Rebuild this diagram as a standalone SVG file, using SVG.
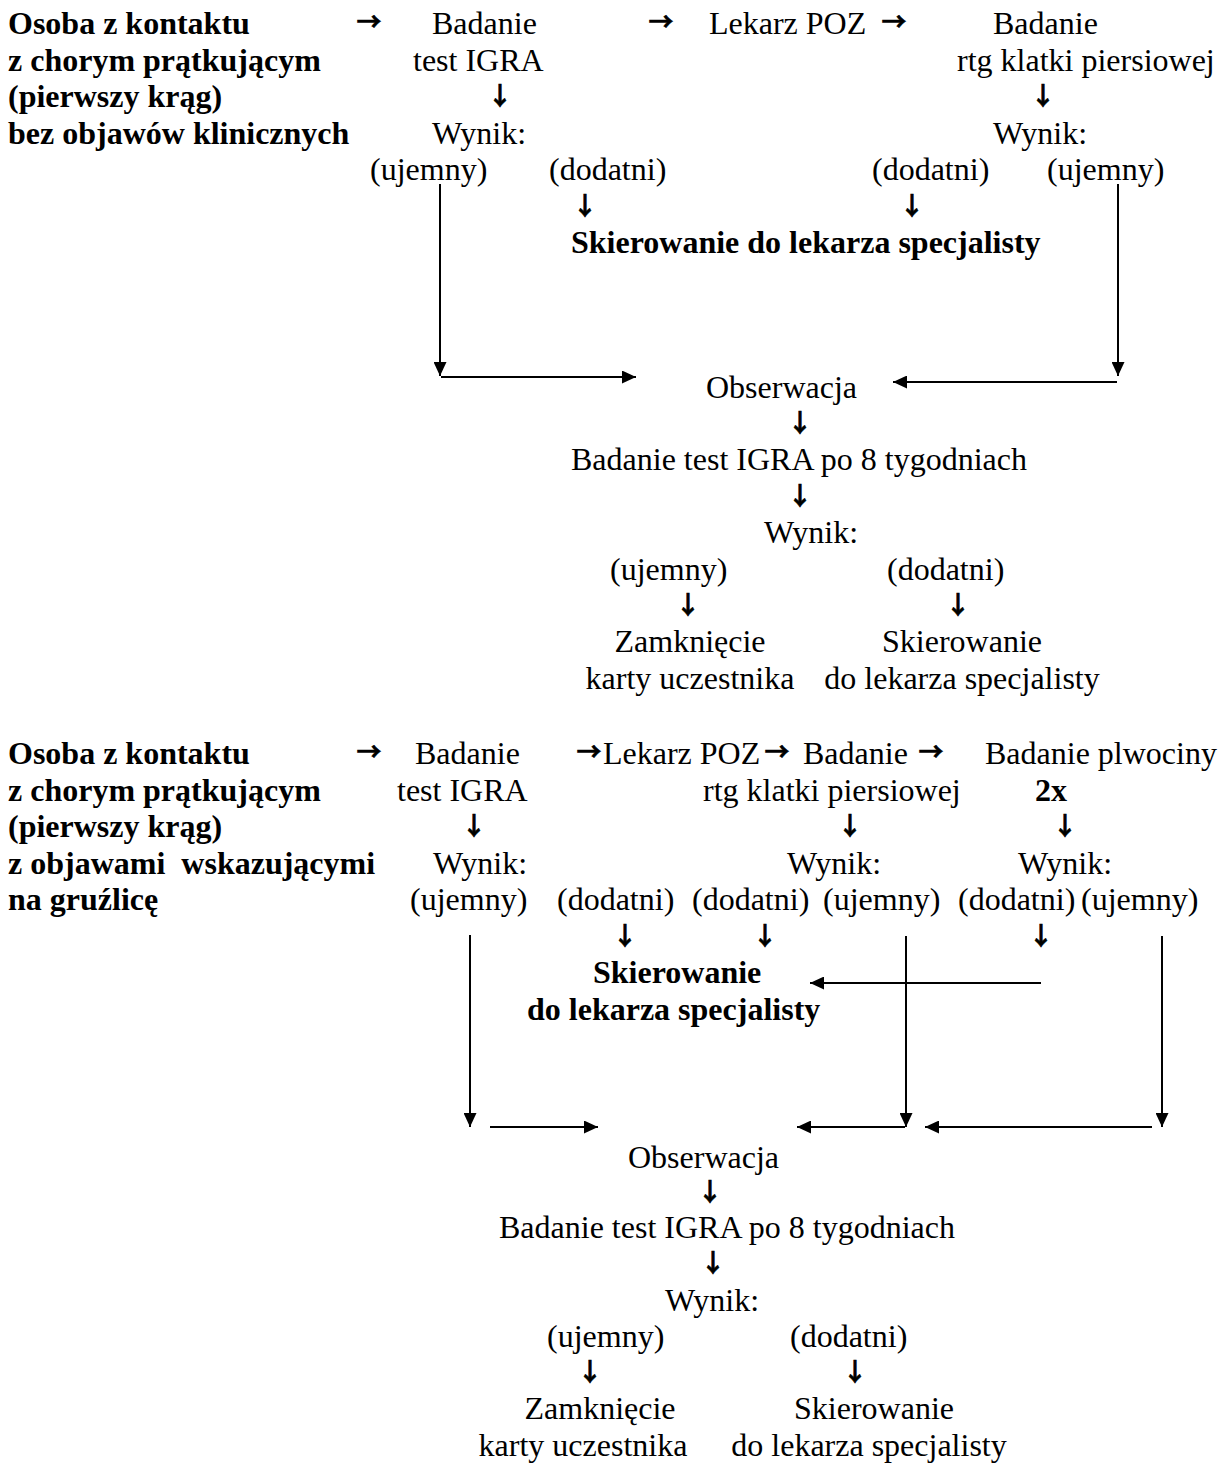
<svg xmlns="http://www.w3.org/2000/svg" width="1228" height="1465" viewBox="0 0 1228 1465">
<style>
text{font-family:"Liberation Serif","Times New Roman",serif;font-size:32px;fill:#000}
.b{font-weight:bold}
.m{text-anchor:middle}
.a{font-family:"Noto Sans CJK SC",sans-serif;font-size:25px;font-weight:700;text-anchor:middle;stroke:#000;stroke-width:0.6}
.c line{stroke:#000;stroke-width:2;marker-end:url(#ah)}
</style>
<defs>
<marker id="ah" markerUnits="userSpaceOnUse" markerWidth="15" markerHeight="13" refX="14" refY="6.5" orient="auto">
<path d="M0,0 L14,6.5 L0,13 z" fill="#000"/>
</marker>
</defs>
<rect width="1228" height="1465" fill="#fff"/>

<!-- SECTION 1 -->
<g id="s1-osoba">
<text class="b" x="8" y="34">Osoba z kontaktu</text>
<text class="b" x="8" y="70.5">z chorym prątkującym</text>
<text class="b" x="8" y="107">(pierwszy krąg)</text>
<text class="b" x="8" y="143.5">bez objawów klinicznych</text>
</g>
<g id="s1-arr1"><text class="a" x="369" y="31">→</text></g>
<g id="s1-igra">
<text x="432" y="34">Badanie</text>
<text x="413" y="70.5">test IGRA</text>
<text class="a" x="500" y="105">↓</text>
<text x="432" y="143.5">Wynik:</text>
<text x="370" y="180">(ujemny)</text>
<text x="549" y="180">(dodatni)</text>
<text class="a" x="585" y="214.5">↓</text>
</g>
<g id="s1-arr2"><text class="a" x="661" y="31">→</text></g>
<g id="s1-poz"><text x="709" y="34">Lekarz POZ</text></g>
<g id="s1-arr3"><text class="a" x="894" y="31">→</text></g>
<g id="s1-rtg">
<text x="993" y="34">Badanie</text>
<text x="957" y="70.5">rtg klatki piersiowej</text>
<text class="a" x="1043" y="105">↓</text>
<text x="993" y="143.5">Wynik:</text>
<text x="872" y="180">(dodatni)</text>
<text x="1047" y="180">(ujemny)</text>
<text class="a" x="912" y="214.5">↓</text>
</g>
<g id="s1-spec"><text class="b" x="571" y="253">Skierowanie do lekarza specjalisty</text></g>
<g id="s1-obs">
<text x="706" y="398">Obserwacja</text>
<text class="a" x="800" y="432">↓</text>
<text x="571" y="470">Badanie test IGRA po 8 tygodniach</text>
<text class="a" x="800" y="505">↓</text>
<text x="764" y="543">Wynik:</text>
<text x="610" y="580">(ujemny)</text>
<text x="887" y="580">(dodatni)</text>
<text class="a" x="688" y="614">↓</text>
<text class="a" x="958" y="614">↓</text>
</g>
<g id="s1-zamk">
<text class="m" x="690" y="652">Zamknięcie</text>
<text class="m" x="690" y="689">karty uczestnika</text>
</g>
<g id="s1-skier">
<text class="m" x="962" y="652">Skierowanie</text>
<text class="m" x="962" y="689">do lekarza specjalisty</text>
</g>

<!-- SECTION 2 -->
<g id="s2-osoba">
<text class="b" x="8" y="764">Osoba z kontaktu</text>
<text class="b" x="8" y="800.5">z chorym prątkującym</text>
<text class="b" x="8" y="837">(pierwszy krąg)</text>
<text class="b" x="8" y="873.5" xml:space="preserve">z objawami  wskazującymi</text>
<text class="b" x="8" y="910">na gruźlicę</text>
</g>
<g id="s2-arr1"><text class="a" x="369" y="761">→</text></g>
<g id="s2-igra">
<text x="415" y="764">Badanie</text>
<text x="397" y="800.5">test IGRA</text>
<text class="a" x="474" y="835">↓</text>
<text x="433" y="873.5">Wynik:</text>
<text x="410" y="910">(ujemny)</text>
<text x="557" y="910">(dodatni)</text>
<text class="a" x="625" y="944.5">↓</text>
</g>
<g id="s2-poz"><text y="764"><tspan class="a" x="589" dy="-3">→</tspan><tspan x="603" dy="3" text-anchor="start">Lekarz POZ</tspan></text></g>
<g id="s2-arr3"><text class="a" x="777" y="761">→</text></g>
<g id="s2-rtg">
<text x="803" y="764">Badanie</text>
<text x="703" y="800.5">rtg klatki piersiowej</text>
<text class="a" x="850" y="835">↓</text>
<text x="787" y="873.5">Wynik:</text>
<text x="692" y="910">(dodatni)</text>
<text x="823" y="910">(ujemny)</text>
<text class="a" x="765" y="944.5">↓</text>
</g>
<g id="s2-arr4"><text class="a" x="931" y="761">→</text></g>
<g id="s2-plw">
<text x="985" y="764">Badanie plwociny</text>
<text class="b" x="1035" y="800.5">2x</text>
<text class="a" x="1065" y="835">↓</text>
<text x="1018" y="873.5">Wynik:</text>
<text x="958" y="910">(dodatni)</text>
<text x="1081" y="910">(ujemny)</text>
<text class="a" x="1041" y="944.5">↓</text>
</g>
<g id="s2-spec">
<text class="b" x="593" y="983">Skierowanie</text>
<text class="b" x="527" y="1019.5">do lekarza specjalisty</text>
</g>
<g id="s2-obs">
<text x="628" y="1168">Obserwacja</text>
<text class="a" x="710" y="1201">↓</text>
<text x="499" y="1238">Badanie test IGRA po 8 tygodniach</text>
<text class="a" x="713" y="1272">↓</text>
<text x="665" y="1311">Wynik:</text>
<text x="547" y="1347">(ujemny)</text>
<text x="790" y="1347">(dodatni)</text>
<text class="a" x="590" y="1381">↓</text>
<text class="a" x="855" y="1381">↓</text>
</g>
<g id="s2-zamk">
<text class="m" x="600" y="1419">Zamknięcie</text>
<text class="m" x="583" y="1456">karty uczestnika</text>
</g>
<g id="s2-skier">
<text class="m" x="874" y="1419">Skierowanie</text>
<text class="m" x="869" y="1456">do lekarza specjalisty</text>
</g>

<!-- CONNECTORS -->
<g id="connectors" class="c">
<line x1="440" y1="184" x2="440" y2="376"/>
<line x1="441" y1="377" x2="636" y2="377"/>
<line x1="1118" y1="184" x2="1118" y2="376"/>
<line x1="1117" y1="382" x2="893" y2="382"/>
<line x1="470" y1="935" x2="470" y2="1127"/>
<line x1="490" y1="1127" x2="598" y2="1127"/>
<line x1="906" y1="936" x2="906" y2="1127"/>
<line x1="905" y1="1127" x2="797" y2="1127"/>
<line x1="1162" y1="936" x2="1162" y2="1127"/>
<line x1="1152" y1="1127" x2="925" y2="1127"/>
<line x1="1041" y1="983" x2="810" y2="983"/>
</g>
</svg>
